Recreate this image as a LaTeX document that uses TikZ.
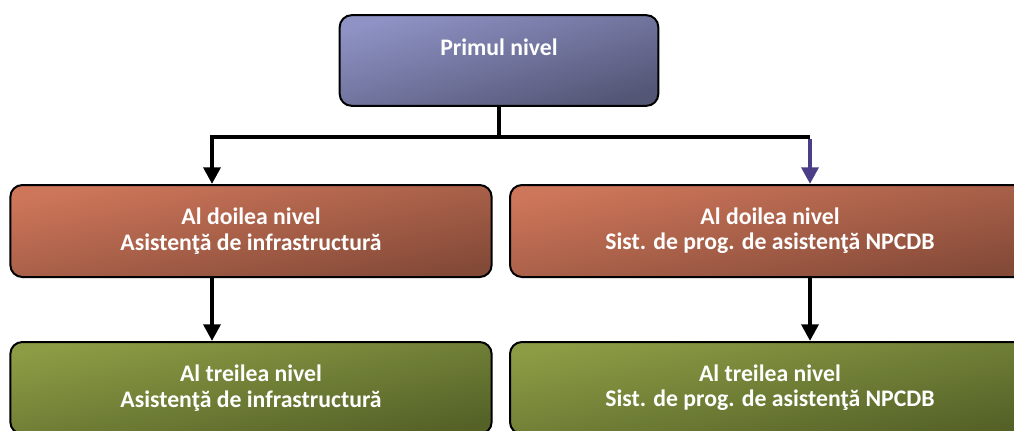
\documentclass[tikz,border=0pt]{standalone}
\usepackage{fontspec}
\setmainfont{Carlito}
\usetikzlibrary{arrows.meta,calc}
\definecolor{topA}{HTML}{8E92C4}
\definecolor{topB}{HTML}{545676}
\definecolor{redA}{HTML}{CE765A}
\definecolor{redB}{HTML}{844A38}
\definecolor{grnA}{HTML}{8C9C44}
\definecolor{grnB}{HTML}{546228}
\definecolor{purp}{HTML}{4B3E86}
\tikzset{
  box/.style={draw=black, line width=1.5pt, rounded corners=9pt, inner sep=0pt,
    text=white, font=\bfseries\fontsize{17.8}{19}\selectfont, align=center},
  topbox/.style={box, top color=topA, bottom color=topB, shading angle=16},
  redbox/.style={box, top color=redA, bottom color=redB, shading angle=11},
  grnbox/.style={box, top color=grnA, bottom color=grnB, shading angle=11},
  lbl/.style={text=white, font=\bfseries\fontsize{17.8}{19}\selectfont, inner sep=0pt},
  conn/.style={line width=3.6pt, draw=black},
  arr/.style={conn, -{Triangle[length=12.5pt,width=12.5pt]}},
}
\begin{document}
\begin{tikzpicture}[x=0.75pt, y=-0.75pt]
\useasboundingbox (0,0) rectangle (1014,430);
\clip (0,0) rectangle (1014,430);
\node[topbox, minimum width=239pt, minimum height=68pt] (top) at (499,60.5) {};
\node[lbl] (toptxt) at (499,47) {Primul nivel};
\node[redbox, minimum width=361pt, minimum height=69pt] (l2) at (251,231)
  {Al doilea nivel\\Asistenţă de infrastructură};
\node[redbox, minimum width=390pt, minimum height=69pt] (r2) at (770,231)
  {Al doilea nivel\\Sist. de prog. de asistenţă NPCDB};
\node[grnbox, minimum width=361pt, minimum height=69pt] (l3) at (251,388)
  {Al treilea nivel\\Asistenţă de infrastructură};
\node[grnbox, minimum width=390pt, minimum height=69pt] (r3) at (770,388)
  {Al treilea nivel\\Sist. de prog. de asistenţă NPCDB};
\coordinate (j) at (499,137);
\coordinate (jl) at (212,137);
\coordinate (jr) at (810,137);
\draw[conn] (top.south) -- (j);
\draw[conn] (jl) -- (jr);
\draw[arr] ([yshift=1.35pt]jl) -- (jl |- l2.north);
\draw[arr, draw=purp, fill=purp] ([yshift=-1.35pt]jr) -- (jr |- r2.north);
\draw[arr] (jl |- l2.south) -- (jl |- l3.north);
\draw[arr] (jr |- r2.south) -- (jr |- r3.north);
\end{tikzpicture}
\end{document}
